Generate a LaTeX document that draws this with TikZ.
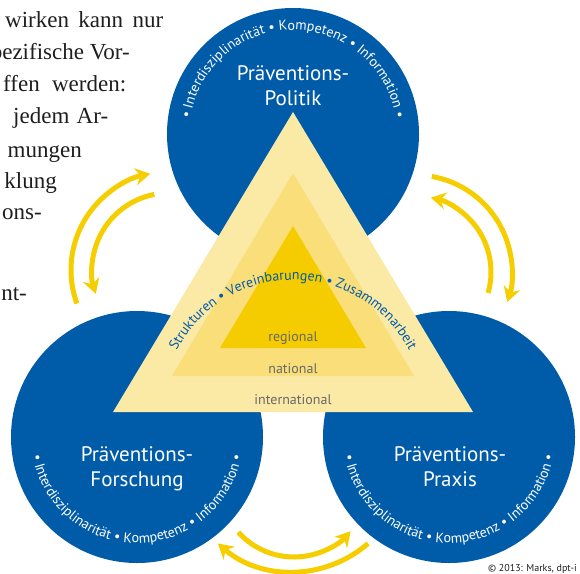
\documentclass[tikz,border=0pt]{standalone}
\usepackage{fontspec}
\setmainfont{PT Sans}
\newfontfamily\parafont{Liberation Serif}
\usetikzlibrary{decorations.text,arrows.meta}
\definecolor{pblue}{RGB}{0,92,169}
\definecolor{triA}{RGB}{251,233,166}
\definecolor{triB}{RGB}{249,222,122}
\definecolor{triC}{RGB}{245,204,0}
\definecolor{arrowy}{RGB}{246,206,0}
\definecolor{lvlgray}{RGB}{105,105,105}
\definecolor{parablack}{RGB}{30,30,30}
\begin{document}
\begin{tikzpicture}[x=1pt,y=1pt,
  circ/.style={circle, fill=pblue, minimum size=252pt, inner sep=0pt},
  clabel/.style={text=white, font=\fontsize{21}{21}\selectfont, anchor=base, inner sep=0pt},
  lvl/.style={text=lvlgray, font=\fontsize{14}{14}\selectfont, anchor=base, inner sep=0pt},
  para/.style={font=\parafont\fontsize{23}{23}\selectfont, inner sep=0pt, text=parablack},
  yarrow/.style={draw=arrowy, line width=5pt, -{Stealth[length=15pt,width=17pt,inset=5pt]}},
]
\useasboundingbox (0,0) rectangle (580,-573);

% circles
\node[circ] (ctop) at (293,-134) {};
\node[circ] (cleft) at (137,-437) {};
\node[circ] (cright) at (449,-437) {};

% triangles
\fill[triA] (113,-412) -- (473,-412) -- (293,-112) -- cycle;
\fill[triB] (172,-376) -- (414,-376) -- (293,-173) -- cycle;
\fill[triC] (220,-348) -- (366,-348) -- (293,-226) -- cycle;

% circle labels
\node[clabel] (tl1) at (293,-80) {Präventions-};
\node[clabel] (tl2) at (293,-105) {Politik};
\node[clabel] (ll1) at (137,-461) {Präventions-};
\node[clabel] (ll2) at (137,-486) {Forschung};
\node[clabel] (rl1) at (450,-461) {Präventions-};
\node[clabel] (rl2) at (450,-486) {Praxis};

% level labels
\node[lvl] (reg) at (293,-341) {regional};
\node[lvl] (nat) at (293,-373) {national};
\node[lvl] (int) at (293,-404) {international};

% texts along arcs
\path[decorate, decoration={text along path, text align=center, text color=white,
  text={|\fontsize{14}{14}\selectfont|• Interdisziplinarität • Kompetenz • Information •}}]
  ([shift={(175:104)}]ctop.center) arc (175:5:104);
\path[decorate, decoration={text along path, text align=center, text color=white,
  text={|\fontsize{14}{14}\selectfont|• Interdisziplinarität • Kompetenz • Information •}}]
  ([shift={(185:106)}]cleft.center) arc (185:355:106);
\path[decorate, decoration={text along path, text align=center, text color=white,
  text={|\fontsize{14}{14}\selectfont|• Interdisziplinarität • Kompetenz • Information •}}]
  ([shift={(185:106)}]cright.center) arc (185:355:106);
\coordinate (tc) at (293,-411);
\path[decorate, decoration={text along path, text align=center, text color=pblue,
  text={|\fontsize{14}{14}\selectfont|Strukturen • Vereinbarungen • Zusammenarbeit}}]
  ([shift={(160:131)}]tc) arc (160:20:131);

% arrows
\coordinate (al) at (169,-270);
\draw[yarrow] ([shift={(200:98)}]al) arc (200:101:98);
\draw[yarrow] ([shift={(101:77)}]al) arc (101:198:77);
\coordinate (ar) at (415,-272);
\draw[yarrow] ([shift={(80:97)}]ar) arc (80:-18:97);
\draw[yarrow] ([shift={(-16:76)}]ar) arc (-16:78:76);
\coordinate (abu) at (294,-482);
\draw[yarrow] ([shift={(-138:75)}]abu) arc (-138:-41:75);
\coordinate (abl) at (293,-457);
\draw[yarrow] ([shift={(-49:114.5)}]abl) arc (-49:-131:114.5);

% paragraph fragments
\node[para, anchor=base west] (p1) at (5,-27) {\makebox[158pt][s]{wirken kann nur}};
\node[para, anchor=base east] (p2) at (130,-59) {pezifische Vor-};
\node[para, anchor=base west] (p3) at (3,-91) {\makebox[123pt][s]{ffen werden:}};
\node[para, anchor=base west] (p4) at (13,-123) {\makebox[95pt][s]{jedem Ar-}};
\node[para, anchor=base east] (p5) at (82,-157) {mungen};
\node[para, anchor=base east] (p6) at (57,-188) {klung};
\node[para, anchor=base east] (p7) at (42,-219) {ons-};
\node[para, anchor=base east] (p8) at (27,-300) {nt-};

% copyright
\node[anchor=base east, font=\fontsize{10}{10}\selectfont, inner sep=0pt, text=parablack] (copy) at (577,-571) {© 2013: Marks, dpt-i};
\end{tikzpicture}
\end{document}
